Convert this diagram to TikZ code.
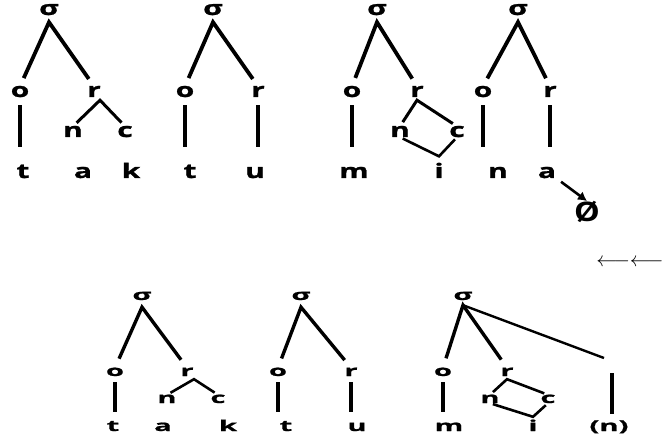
\documentclass[tikz,border=0pt]{standalone}
\usepackage{fontspec}
\usetikzlibrary{arrows.meta}
\newfontfamily\uppfam[FakeStretch=1.5, FakeBold=1.2]{Open Sans}
\newfontfamily\lowfam[FakeStretch=1.95, FakeBold=1]{Open Sans}
\newfontfamily\nulfam[FakeStretch=1.2]{Open Sans}

\begin{document}
\begin{tikzpicture}[x=1pt, y=-1pt,
	up/.style={font=\uppfam\bfseries\fontsize{20}{22}\selectfont, inner sep=0pt, text height=10.5pt, text depth=0pt, anchor=base},
	lo/.style={font=\lowfam\bfseries\fontsize{15}{16}\selectfont, inner sep=0pt, text height=8pt, text depth=0pt, anchor=base},
	nul/.style={font=\nulfam\bfseries\fontsize{27}{28}\selectfont, inner sep=0pt},
	limb/.style={line width=3.8pt, shorten <=9pt, shorten >=9pt},
	twig/.style={line width=3pt, shorten <=5pt, shorten >=5pt},
	stem/.style={line width=3.8pt, shorten <=8pt, shorten >=20pt},
	ring/.style={line width=2.6pt, shorten <=3pt, shorten >=3pt},
	limbl/.style={line width=3.4pt, shorten <=10pt, shorten >=10pt},
	twigl/.style={line width=2.6pt, shorten <=4pt, shorten >=4pt},
	steml/.style={line width=3.4pt, shorten <=6pt, shorten >=11pt}]

	\useasboundingbox (0,0) rectangle (665,441);

	% top row: t a k . t u . m i . n a
	\node[up] (s1) at (49,15) {σ};
	\node[up] (o1) at (20,97) {o};
	\node[up] (r1) at (94,97) {r};
	\node[up] (n1) at (73,137) {n};
	\node[up] (c1) at (125,137) {c};
	\node[up] (t1) at (23,178) {t};
	\node[up] (a1) at (83,178) {a};
	\node[up] (k1) at (131,178) {k};

	\node[up] (s2) at (213,15) {σ};
	\node[up] (o2) at (185,97) {o};
	\node[up] (r2) at (258,97) {r};
	\node[up] (t2) at (190,178) {t};
	\node[up] (u2) at (255,178) {u};

	\node[up] (s3) at (377,15) {σ};
	\node[up] (o3) at (352,97) {o};
	\node[up] (r3) at (417,97) {r};
	\node[up] (n3) at (400,137) {n};
	\node[up] (c3) at (457,137) {c};
	\node[up] (m3) at (354,178) {m};
	\node[up] (i3) at (439,178) {i};

	\node[up] (s4) at (518,15) {σ};
	\node[up] (o4) at (483,97) {o};
	\node[up] (r4) at (550,97) {r};
	\node[up] (n4) at (498,178) {n};
	\node[up] (a4) at (547,178) {a};
	\node[nul] (z4) at (587,212) {Ø};

	\draw[limb] (o1.north) -- ([yshift=-7pt]s1.south) -- (r1.north);
	\draw[twig] (n1.north) -- ([shift={(6pt,-3pt)}]r1.south) -- (c1.north);
	\draw[stem] (o1.south) -- (o1.south |- t1.north);

	\draw[limb] (o2.north) -- ([yshift=-7pt]s2.south) -- (r2.north);
	\draw[stem] (o2.south) -- (o2.south |- t2.north);
	\draw[stem] (r2.south) -- (r2.south |- u2.north);

	\draw[limb] (o3.north) -- ([yshift=-7pt]s3.south) -- (r3.north);
	\draw[twig] (n3.north) -- ([yshift=-3pt]r3.south) -- (c3.north);
	\draw[ring] (n3.south) -- ([yshift=11pt]i3.north) -- (c3.south);
	\draw[stem] (o3.south) -- (o3.south |- m3.north);

	\draw[limb] (o4.north) -- ([yshift=-7pt]s4.south) -- (r4.north);
	\draw[stem] (o4.south) -- (o4.south |- n4.north);
	\draw[stem] (r4.south) -- (r4.south |- a4.north);
	\draw[line width=2.6pt, -{Latex[length=9pt,width=10pt]}, shorten <=6pt] (a4.south east) -- (z4.north);

	% bottom row: t a k . t u . m i (n)
	\node[scale=2.08, inner sep=0pt, anchor=west] (bk) at (596,263) {$\longleftarrow\longleftarrow$};

	\node[lo] (s5) at (142,300) {σ};
	\node[lo] (o5) at (115,376) {o};
	\node[lo] (r5) at (187,376) {r};
	\node[lo] (n5) at (167,403) {n};
	\node[lo] (c5) at (218,403) {c};
	\node[lo] (t5) at (113,431) {t};
	\node[lo] (a5) at (163,431) {a};
	\node[lo] (k5) at (228,431) {k};

	\node[lo] (s6) at (301,300) {σ};
	\node[lo] (o6) at (278,376) {o};
	\node[lo] (r6) at (351,376) {r};
	\node[lo] (t6) at (286,431) {t};
	\node[lo] (u6) at (357,431) {u};

	\node[lo] (s7) at (463,300) {σ};
	\node[lo] (o7) at (443,376) {o};
	\node[lo] (r7) at (507,376) {r};
	\node[lo] (n7) at (490,403) {n};
	\node[lo] (c7) at (548,403) {c};
	\node[lo] (m7) at (449,431) {m};
	\node[lo] (i7) at (533,431) {i};
	\node[lo] (p7) at (609,431) {(n)};
	\coordinate (e7) at (604,358);
	\coordinate (v7) at (612,373);

	\draw[limbl] (o5.north) -- ([yshift=-7pt]s5.south) -- (r5.north);
	\draw[twigl] (n5.north) -- ([shift={(7pt,-3pt)}]r5.south) -- (c5.north);
	\draw[steml] (o5.south) -- (o5.south |- t5.north);

	\draw[limbl] (o6.north) -- ([yshift=-7pt]s6.south) -- (r6.north);
	\draw[steml] (o6.south) -- (o6.south |- t6.north);
	\draw[steml] (r6.south) -- (r6.south |- u6.north);

	\draw[limbl] (o7.north) -- ([yshift=-5pt]s7.south) -- (r7.north);
	\draw[line width=2.4pt] ([yshift=-5pt]s7.south) -- (e7);
	\draw[twigl] (n7.north) -- ([yshift=-3pt]r7.south) -- (c7.north);
	\draw[ring] (n7.south) -- ([yshift=6pt]i7.north) -- (c7.south);
	\draw[steml] (o7.south) -- (o7.south |- m7.north);
	\draw[line width=3.4pt, shorten >=9pt] (v7) -- (v7 |- p7.north);

\end{tikzpicture}
\end{document}
